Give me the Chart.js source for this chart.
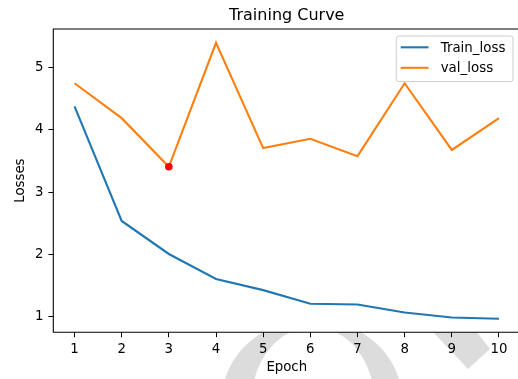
<!DOCTYPE html>
<html>
<head>
<meta charset="utf-8">
<script src="https://cdn.jsdelivr.net/npm/chart.js@4/dist/chart.umd.min.js"></script>
<style>
html,body{margin:0;padding:0;overflow:hidden;background:#fff;}
canvas{display:block;}
</style>
</head>
<body>
<canvas id="c" width="530" height="379" style="width:530px;height:379px;"></canvas>
<script>
const epochs = [1, 2, 3, 4, 5, 6, 7, 8, 9, 10];
const trainLoss = [4.38, 2.54, 2.01, 1.61, 1.43, 1.21, 1.20, 1.07, 0.99, 0.97];
const valLoss = [4.75, 4.19, 3.41, 5.40, 3.71, 3.86, 3.58, 4.75, 3.68, 4.19];
const yTicks = [1, 2, 3, 4, 5];
const xTicks = epochs;
const seriesLabels = ['Train_loss', 'val_loss'];
const seriesColors = ['#1f77b4', '#ff7f0e'];

const FONT = "'DejaVu Sans', sans-serif";
const bestIdx = valLoss.indexOf(Math.min(...valLoss));

const watermark = {
  id: 'watermark',
  beforeDraw(chart) {
    const ctx = chart.ctx, a = chart.chartArea;
    ctx.save();
    ctx.beginPath();
    ctx.rect(0, a.bottom, chart.width, chart.height - a.bottom);
    ctx.clip();
    ctx.fillStyle = '#dcdcdc';
    ctx.beginPath();
    ctx.ellipse(312, 400, 90, 80.8, 0, 0, Math.PI * 2);
    ctx.ellipse(313, 400, 61, 73, 0, 0, Math.PI * 2);
    ctx.fill('evenodd');
    ctx.beginPath();
    ctx.moveTo(420, 318);
    ctx.lineTo(466, 318);
    ctx.lineTo(490, 349);
    ctx.lineTo(468, 369);
    ctx.closePath();
    ctx.fill();
    ctx.restore();
  }
};

const frame = {
  id: 'frame',
  afterDatasetsDraw(chart) {
    const ctx = chart.ctx, a = chart.chartArea;
    ctx.save();
    ctx.strokeStyle = '#000';
    ctx.lineWidth = 1.1;
    ctx.beginPath();
    ctx.moveTo(chart.width + 5, a.top);
    ctx.lineTo(a.left, a.top);
    ctx.lineTo(a.left, a.bottom);
    ctx.lineTo(chart.width + 5, a.bottom);
    ctx.stroke();
    ctx.restore();
  }
};

const legendBox = {
  id: 'legendBox',
  afterDraw(chart) {
    const ctx = chart.ctx, a = chart.chartArea;
    const right = a.right - 7.2, top = a.top + 7;
    const w = 116.7, h = 45.7, left = right - w;
    ctx.save();
    ctx.beginPath();
    ctx.roundRect(left, top, w, h, 2.5);
    ctx.fillStyle = 'rgba(255,255,255,0.8)';
    ctx.fill();
    ctx.strokeStyle = '#cccccc';
    ctx.lineWidth = 1;
    ctx.stroke();
    ctx.font = '13.4px ' + FONT;
    ctx.textBaseline = 'alphabetic';
    ctx.fillStyle = '#000';
    seriesLabels.forEach((lab, i) => {
      const y = top + 11.3 + i * 20.5;
      ctx.strokeStyle = seriesColors[i];
      ctx.lineWidth = 2.1;
      ctx.beginPath();
      ctx.moveTo(left + 4.4, y);
      ctx.lineTo(left + 32.2, y);
      ctx.stroke();
      ctx.fillText(lab, left + 44.4, y + 4.6);
    });
    ctx.restore();
  }
};

new Chart(document.getElementById('c'), {
  type: 'line',
  data: {
    datasets: [
      {label: seriesLabels[0], data: epochs.map((e, i) => ({x: e, y: trainLoss[i]})), borderColor: seriesColors[0], borderWidth: 2.1, pointRadius: 0, tension: 0, order: 3},
      {label: seriesLabels[1], data: epochs.map((e, i) => ({x: e, y: valLoss[i]})), borderColor: seriesColors[1], borderWidth: 2.1, pointRadius: 0, tension: 0, order: 2},
      {type: 'scatter', label: 'best', data: [{x: epochs[bestIdx], y: valLoss[bestIdx]}], backgroundColor: 'red', borderColor: 'red', borderWidth: 0, pointRadius: 3.8, order: 1}
    ]
  },
  options: {
    responsive: false, maintainAspectRatio: false, devicePixelRatio: 1, animation: false, events: [],
    layout: {padding: {left: 0, right: 9.8, top: 0, bottom: 0}},
    plugins: {
      legend: {display: false}, tooltip: {enabled: false},
      title: {display: true, text: 'Training Curve', fullSize: false, color: '#000', font: {family: FONT, size: 16, weight: 'normal', lineHeight: 1.2}, padding: {top: 5.8, bottom: 4}}
    },
    scales: {
      x: {
        type: 'linear', min: 0.55, max: 10.45,
        afterBuildTicks: s => { s.ticks = xTicks.map(v => ({value: v})); },
        afterFit: s => { s.height = 46.7; },
        grid: {display: true, drawOnChartArea: false, drawTicks: true, tickLength: 4.9, tickColor: '#000', tickWidth: 1},
        border: {display: false},
        ticks: {color: '#000', font: {family: FONT, size: 13.3}, padding: 4, maxRotation: 0, autoSkip: false},
        title: {display: true, text: 'Epoch', color: '#000', font: {family: FONT, size: 13.3, lineHeight: 1.2}, padding: {top: 0, bottom: 3}}
      },
      y: {
        type: 'linear', min: 0.753, max: 5.621,
        afterBuildTicks: s => { s.ticks = yTicks.map(v => ({value: v})); },
        afterFit: s => { s.width = 53.3; },
        grid: {display: true, drawOnChartArea: false, drawTicks: true, tickLength: 4.9, tickColor: '#000', tickWidth: 1},
        border: {display: false},
        ticks: {color: '#000', font: {family: FONT, size: 13.3}, padding: 5, autoSkip: false},
        title: {display: true, text: 'Losses', color: '#000', font: {family: FONT, size: 13.3, lineHeight: 1.2}, padding: {top: 12.3, bottom: 0}}
      }
    }
  },
  plugins: [watermark, frame, legendBox]
});
</script>
</body>
</html>
